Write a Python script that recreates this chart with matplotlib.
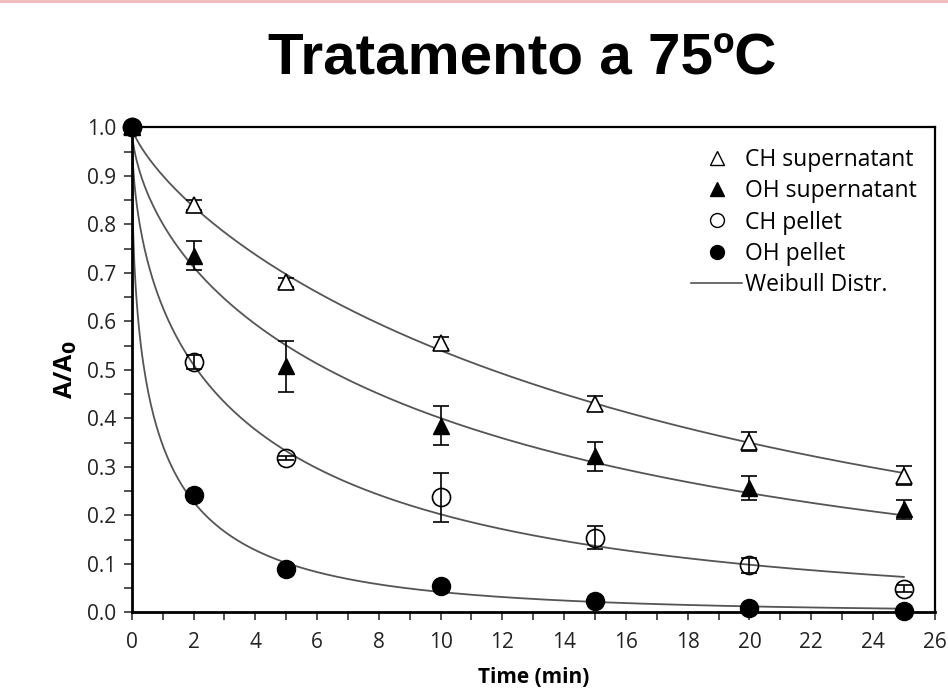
import numpy as np
import matplotlib
matplotlib.use("Agg")
import matplotlib.pyplot as plt
from matplotlib.lines import Line2D

plt.rcParams['font.family'] = ['Open Sans', 'DejaVu Sans']

# sampling times (min)
time = [0, 2, 5, 10, 15, 20, 25]

# A/A0 measured, with error (sd)
ch_sup = [1.0, 0.840, 0.680, 0.555, 0.430, 0.352, 0.282]
ch_sup_err = [0.0, 0.010, 0.010, 0.012, 0.015, 0.020, 0.020]
oh_sup = [1.0, 0.735, 0.507, 0.385, 0.322, 0.256, 0.212]
oh_sup_err = [0.0, 0.030, 0.053, 0.040, 0.030, 0.025, 0.020]
ch_pel = [1.0, 0.516, 0.318, 0.237, 0.154, 0.097, 0.049]
ch_pel_err = [0.0, 0.015, 0.004, 0.050, 0.023, 0.015, 0.007]
oh_pel = [1.0, 0.242, 0.089, 0.054, 0.023, 0.008, 0.002]
oh_pel_err = [0.0, 0.0, 0.0, 0.0, 0.0, 0.0, 0.0]

# Weibull fit parameters (scale b, shape n) for each series
weib_b = [18.75, 11.54, 4.18, 0.876]
weib_n = [0.770, 0.616, 0.538, 0.474]

fig = plt.figure(figsize=(9.48, 6.88), dpi=100)
ax = fig.add_axes([0.139, 0.110, 0.847, 0.705])

# fitted curves
tt = np.linspace(0, 25, 600)
for b, n in zip(weib_b, weib_n):
    ax.plot(tt, np.exp(-(tt / b) ** n), color='#555555', lw=1.3, zorder=2)

ebkw = dict(ecolor='black', elinewidth=1.2, capsize=6, capthick=1.2, ls='none', clip_on=False, zorder=3)
ax.errorbar(time, ch_sup, yerr=ch_sup_err, marker='^', ms=12, mfc='white', mec='black', mew=1.2, **ebkw)
ax.errorbar(time, oh_sup, yerr=oh_sup_err, marker='^', ms=12, mfc='black', mec='black', **ebkw)
ax.errorbar(time, ch_pel, yerr=ch_pel_err, marker='o', ms=13, mfc='none', mec='black', mew=1.2, **ebkw)
ax.errorbar(time, oh_pel, yerr=oh_pel_err, marker='o', ms=13, mfc='black', mec='black', **ebkw)

ax.set_xlim(0, 26)
ax.set_ylim(0, 1.0)
ax.set_xticks(np.arange(0, 27, 2))
ax.set_xticks(np.arange(1, 26, 2), minor=True)
ax.set_yticks(np.arange(0, 1.01, 0.1))
ax.set_yticks(np.arange(0.05, 1.0, 0.1), minor=True)
ax.set_yticklabels([f"{v:.1f}" for v in np.arange(0, 1.01, 0.1)])
ax.tick_params(which='both', direction='out', length=6, width=1.2, color='#333333',
               labelsize=15, labelcolor='#222222', top=False, right=False)
ax.tick_params(axis='y', pad=5)
ax.tick_params(axis='x', pad=8)
for s in ['left', 'bottom']:
    ax.spines[s].set_linewidth(2.0)
for s in ['top', 'right']:
    ax.spines[s].set_linewidth(1.6)

ax.set_xlabel("Time (min)", fontsize=15, fontweight='bold', labelpad=10)
ax.set_ylabel(r"A/A$_\mathbf{0}$", fontsize=18, fontweight='bold', labelpad=6)

handles = [
    Line2D([], [], marker='^', ls='none', ms=10, mfc='white', mec='black'),
    Line2D([], [], marker='^', ls='none', ms=10, mfc='black', mec='black'),
    Line2D([], [], marker='o', ls='none', ms=10, mfc='white', mec='black'),
    Line2D([], [], marker='o', ls='none', ms=10, mfc='black', mec='black'),
    Line2D([], [], color='#444444', lw=1.1),
]
labels = ["CH supernatant", "OH supernatant", "CH pellet", "OH pellet", "Weibull Distr."]
ax.legend(handles, labels, loc='upper right', frameon=False, fontsize=16.5,
          handlelength=2.2, handletextpad=0.15, labelspacing=0.31,
          borderaxespad=0.2, bbox_to_anchor=(0.995, 0.985))

fig.text(0.551, 0.914, "Tratamento a 75ºC", ha='center', va='center',
         fontsize=42, fontweight='bold', family=['Liberation Sans', 'DejaVu Sans'])
fig.add_artist(Line2D([0, 1], [0.998, 0.998], color='#f2b8bb', lw=2, transform=fig.transFigure))

fig.savefig("out.png", dpi=100)
